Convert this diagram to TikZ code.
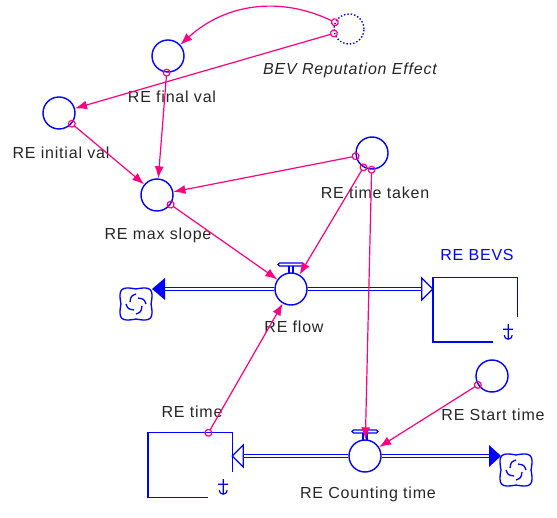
\documentclass[tikz,border=0pt]{standalone}
\usepackage{fontspec}
\setmainfont{Liberation Sans}[LetterSpace=5]
\usetikzlibrary{arrows.meta}
\definecolor{vblue}{RGB}{0,0,255}
\definecolor{vpink}{RGB}{255,0,128}
\tikzset{
    handle/.pic={
        \draw[vblue, line width=1.2pt, rounded corners=1.5pt] (-13,-26) rectangle (13,-23);
        \draw[vblue, line width=1.1pt] (-2,-23) -- (-2,-16) (2,-23) -- (2,-16);
    },
    cloud/.pic={
        \draw[vblue, line width=1.3pt] (0,-15) .. controls (15,-18) and (18,-15) .. (15,0)
            .. controls (18,15) and (15,18) .. (0,15) .. controls (-15,18) and (-18,15) .. (-15,0)
            .. controls (-18,-15) and (-15,-18) .. (0,-15) -- cycle;
        \foreach \a in {0,90,180,270}
            \draw[vblue, line width=1.3pt, rotate=\a] (0,-10) .. controls (-5,-8) .. (-6,-2);
    },
    anch/.pic={
        \draw[vblue, line width=1.2pt] (0,-18) -- (0,-3) (-5,-13) -- (5,-13)
            (-4,-7) arc[start angle=180, end angle=0, radius=4];
    }
}
\begin{document}
\begin{tikzpicture}[x=1pt, y=-1pt,
    aux/.style={draw=vblue, circle, line width=1.4pt, minimum size=32pt, inner sep=0pt},
    valve/.style={aux, fill=white},
    stockbox/.style={minimum width=84pt, minimum height=64pt, inner sep=0pt},
    lbl/.style={font=\fontsize{16}{18}\selectfont, text=black!85, inner sep=0pt},
    link/.style={draw=vpink, line width=1.2pt, shorten <=-4pt,
        {Circle[open,length=8pt,width=8pt]}-{Latex[length=12pt,width=9pt]}},
    pipe/.style={draw=vblue, double=white, double distance=2.5pt, line width=1pt},
    edge/.style={vblue, line width=1.4pt}
]
\useasboundingbox (0,0) rectangle (557,518);
% variables
\node[aux, dotted, minimum size=30pt] (bev) at (349,29) {};
\node[lbl, font=\fontsize{16}{18}\selectfont\itshape] (bevl) at (350,70) {BEV Reputation Effect};
\node[aux] (finalval) at (168,56) {};
\node[lbl] (finalvall) at (172,97) {RE final val};
\node[aux] (initval) at (59,113) {};
\node[lbl] (initvall) at (61,153) {RE initial val};
\node[aux] (maxslope) at (157,195) {};
\node[lbl] (maxslopel) at (158,235) {RE max slope};
\node[aux] (timetaken) at (372,153) {};
\node[lbl] (timetakenl) at (375,193) {RE time taken};
\node[aux] (start) at (492,376) {};
\node[lbl] (startl) at (493,415) {RE Start time};
% stocks
\node[stockbox] (bevs) at (475,310) {};
\node[lbl, text=vblue] (bevsl) at (477,255) {RE BEVS};
\draw[edge] ([xshift=60]bevs.south west) -- (bevs.south west) -- (bevs.north west)
    -- (bevs.north east) -- ++(0,39);
\pic at ([xshift=-9]bevs.south east) {anch};
\node[stockbox] (retime) at (190,465) {};
\node[lbl] (retimel) at (192,412) {RE time};
\draw[edge] ([xshift=60]retime.south west) -- (retime.south west) -- (retime.north west)
    -- (retime.north east) -- ++(0,39);
\pic at ([xshift=-9]retime.south east) {anch};
% flows
\node[valve] (flow) at (291,289) {};
\pic at (flow) {handle};
\node[lbl] (flowl) at (294,327) {RE flow};
\node[valve] (count) at (365,456) {};
\pic at (count) {handle};
\node[lbl] (countl) at (368,494) {RE Counting time};
\coordinate (srcL) at (136,304);
\pic at (srcL) {cloud};
\coordinate (srcR) at (516,470);
\pic at (srcR) {cloud};
\coordinate (tipL) at ([xshift=16]srcL |- flow);
\draw[pipe] (flow.west) -- ([xshift=13]tipL);
\fill[vblue] (tipL) -- ++(13,-11) -- ++(0,22) -- cycle;
\draw[pipe] (flow.east) -- ([xshift=-11]bevs.west |- flow);
\draw[vblue, line width=1.2pt, fill=white] (bevs.west |- flow) -- ++(-11,-11) -- ++(0,22) -- cycle;
\draw[pipe] (count.west) -- ([xshift=11]retime.east |- count);
\draw[vblue, line width=1.2pt, fill=white] (retime.east |- count) -- ++(11,-11) -- ++(0,22) -- cycle;
\coordinate (tipR) at ([xshift=-15]srcR |- count);
\draw[pipe] (count.east) -- ([xshift=-12]tipR);
\fill[vblue] (tipR) -- ++(-12,-11) -- ++(0,22) -- cycle;
% links
\draw[link] (bev) to[bend right=34] (finalval);
\draw[link] (bev) -- (initval);
\draw[link] (finalval) -- (maxslope);
\draw[link] (initval) -- (maxslope);
\draw[link] (timetaken) -- (maxslope);
\draw[link] (timetaken) -- (flow);
\draw[link] (timetaken) -- (count);
\draw[link] (maxslope) -- (flow);
\draw[link] (retime) -- (flow);
\draw[link] (start) -- (count);
\end{tikzpicture}
\end{document}
